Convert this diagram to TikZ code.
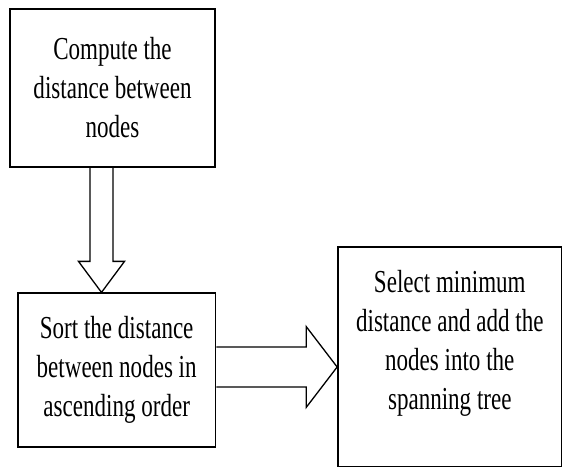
\documentclass[tikz,border=0pt]{standalone}
\usepackage{fontspec}
\setmainfont{Liberation Serif}[FakeStretch=0.72]
\usetikzlibrary{positioning,calc}

\tikzset{
  stepbox/.style={draw, line width=1.8pt, align=center, inner sep=0pt},
  hollow/.style={draw, line width=1.3pt, line join=miter}
}

\begin{document}
\begin{tikzpicture}[x=1pt,y=1pt,font=\fontsize{32}{39}\selectfont]
  \useasboundingbox (0,0) rectangle (563,468);

  \node (comp) [stepbox, minimum width=205.7pt, minimum height=157.7pt] at (112.5,380.1)
    {Compute the\\distance between\\nodes};
  \node (sort) [stepbox, minimum width=197.4pt, minimum height=153.4pt] at (116.7,98)
    {Sort the distance\\between nodes in\\ascending order};
  \node (sel) [stepbox, minimum width=223.5pt, minimum height=219.5pt,
    label={[yshift=13pt, align=center]center:Select minimum\\distance and add the\\nodes into the\\spanning tree}] at (449.8,111.2) {};

  % down arrow
  \coordinate (dtop) at ([xshift=-11pt]comp.south);
  \coordinate (dtip) at (dtop |- sort.north);
  \draw[hollow] ([xshift=-11.5pt]dtop) -- ([xshift=-11.5pt,yshift=31pt]dtip)
    -- ([xshift=-23pt,yshift=31pt]dtip) -- (dtip)
    -- ([xshift=23pt,yshift=31pt]dtip) -- ([xshift=11.5pt,yshift=31pt]dtip)
    -- ([xshift=11.5pt]dtop);

  % right arrow
  \coordinate (rstart) at ([yshift=3pt]sort.east);
  \coordinate (rtip) at (rstart -| sel.west);
  \draw[hollow] ([yshift=20pt]rstart) -- ([xshift=-31pt,yshift=20pt]rtip)
    -- ([xshift=-31pt,yshift=40.5pt]rtip) -- (rtip)
    -- ([xshift=-31pt,yshift=-40.5pt]rtip) -- ([xshift=-31pt,yshift=-20pt]rtip)
    -- ([yshift=-20pt]rstart);

\end{tikzpicture}
\end{document}
